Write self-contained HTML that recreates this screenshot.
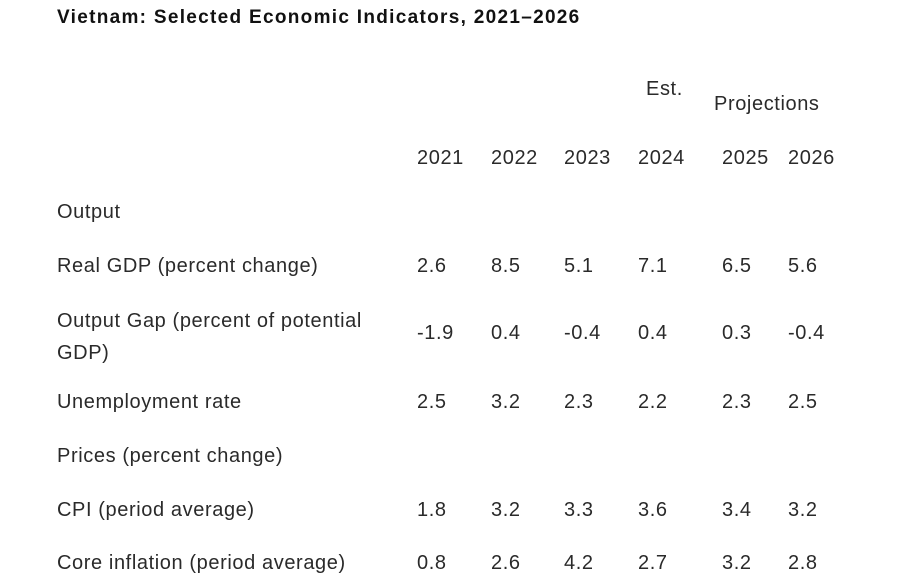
<!DOCTYPE html>
<html><head><meta charset="utf-8"><style>
body{margin:0;width:900px;height:581px;background:#fff;font-family:"Liberation Sans",sans-serif;color:#2a2a2a;position:relative;overflow:hidden}
.t{position:absolute;font-size:20px;letter-spacing:0.6px;line-height:24px;white-space:nowrap}
#title{position:absolute;left:57px;top:7px;font-size:19px;letter-spacing:1.3px;font-weight:bold;color:#111}
</style></head><body>
<div id="title">Vietnam: Selected Economic Indicators, 2021–2026</div>
<div class="t" style="left:646px;top:77px">Est.</div>
<div class="t" style="left:714px;top:92px">Projections</div>
<div id="tbl"></div>
<script>
const years=["2021","2022","2023","2024","2025","2026"];
const rowLabels=["Output","Real GDP (percent change)","Output Gap (percent of potential|GDP)","Unemployment rate","Prices (percent change)","CPI (period average)","Core inflation (period average)"];
const gdp=["2.6","8.5","5.1","7.1","6.5","5.6"];
const gap=["-1.9","0.4","-0.4","0.4","0.3","-0.4"];
const unemp=["2.5","3.2","2.3","2.2","2.3","2.5"];
const cpi=["1.8","3.2","3.3","3.6","3.4","3.2"];
const core=["0.8","2.6","4.2","2.7","3.2","2.8"];
const rowValues=[null,gdp,gap,unemp,null,cpi,core];
const colX=[417,491,564,638,722,788];
const rowY=[212,266,333,402,456,510,563];
const tbl=document.getElementById('tbl');
function mk(txt,x,yc,name){const d=document.createElement('div');d.className='t';


const lines=txt.split('|');d.innerHTML=lines.join('<br>');
d.style.left=x+'px';d.style.top=(yc-lines.length*12-(lines.length>1?4:0))+'px';
if(lines.length>1)d.style.lineHeight='32px';
tbl.appendChild(d);}
years.forEach((y,i)=>mk(y,colX[i],158,'year-header-'+y));
rowLabels.forEach((l,r)=>{mk(l,57,rowY[r],'row-label-'+r);
const v=rowValues[r];if(v)v.forEach((val,i)=>mk(val,colX[i],rowY[r],'cell-'+r+'-'+years[i]));});
</script>
</body></html>
